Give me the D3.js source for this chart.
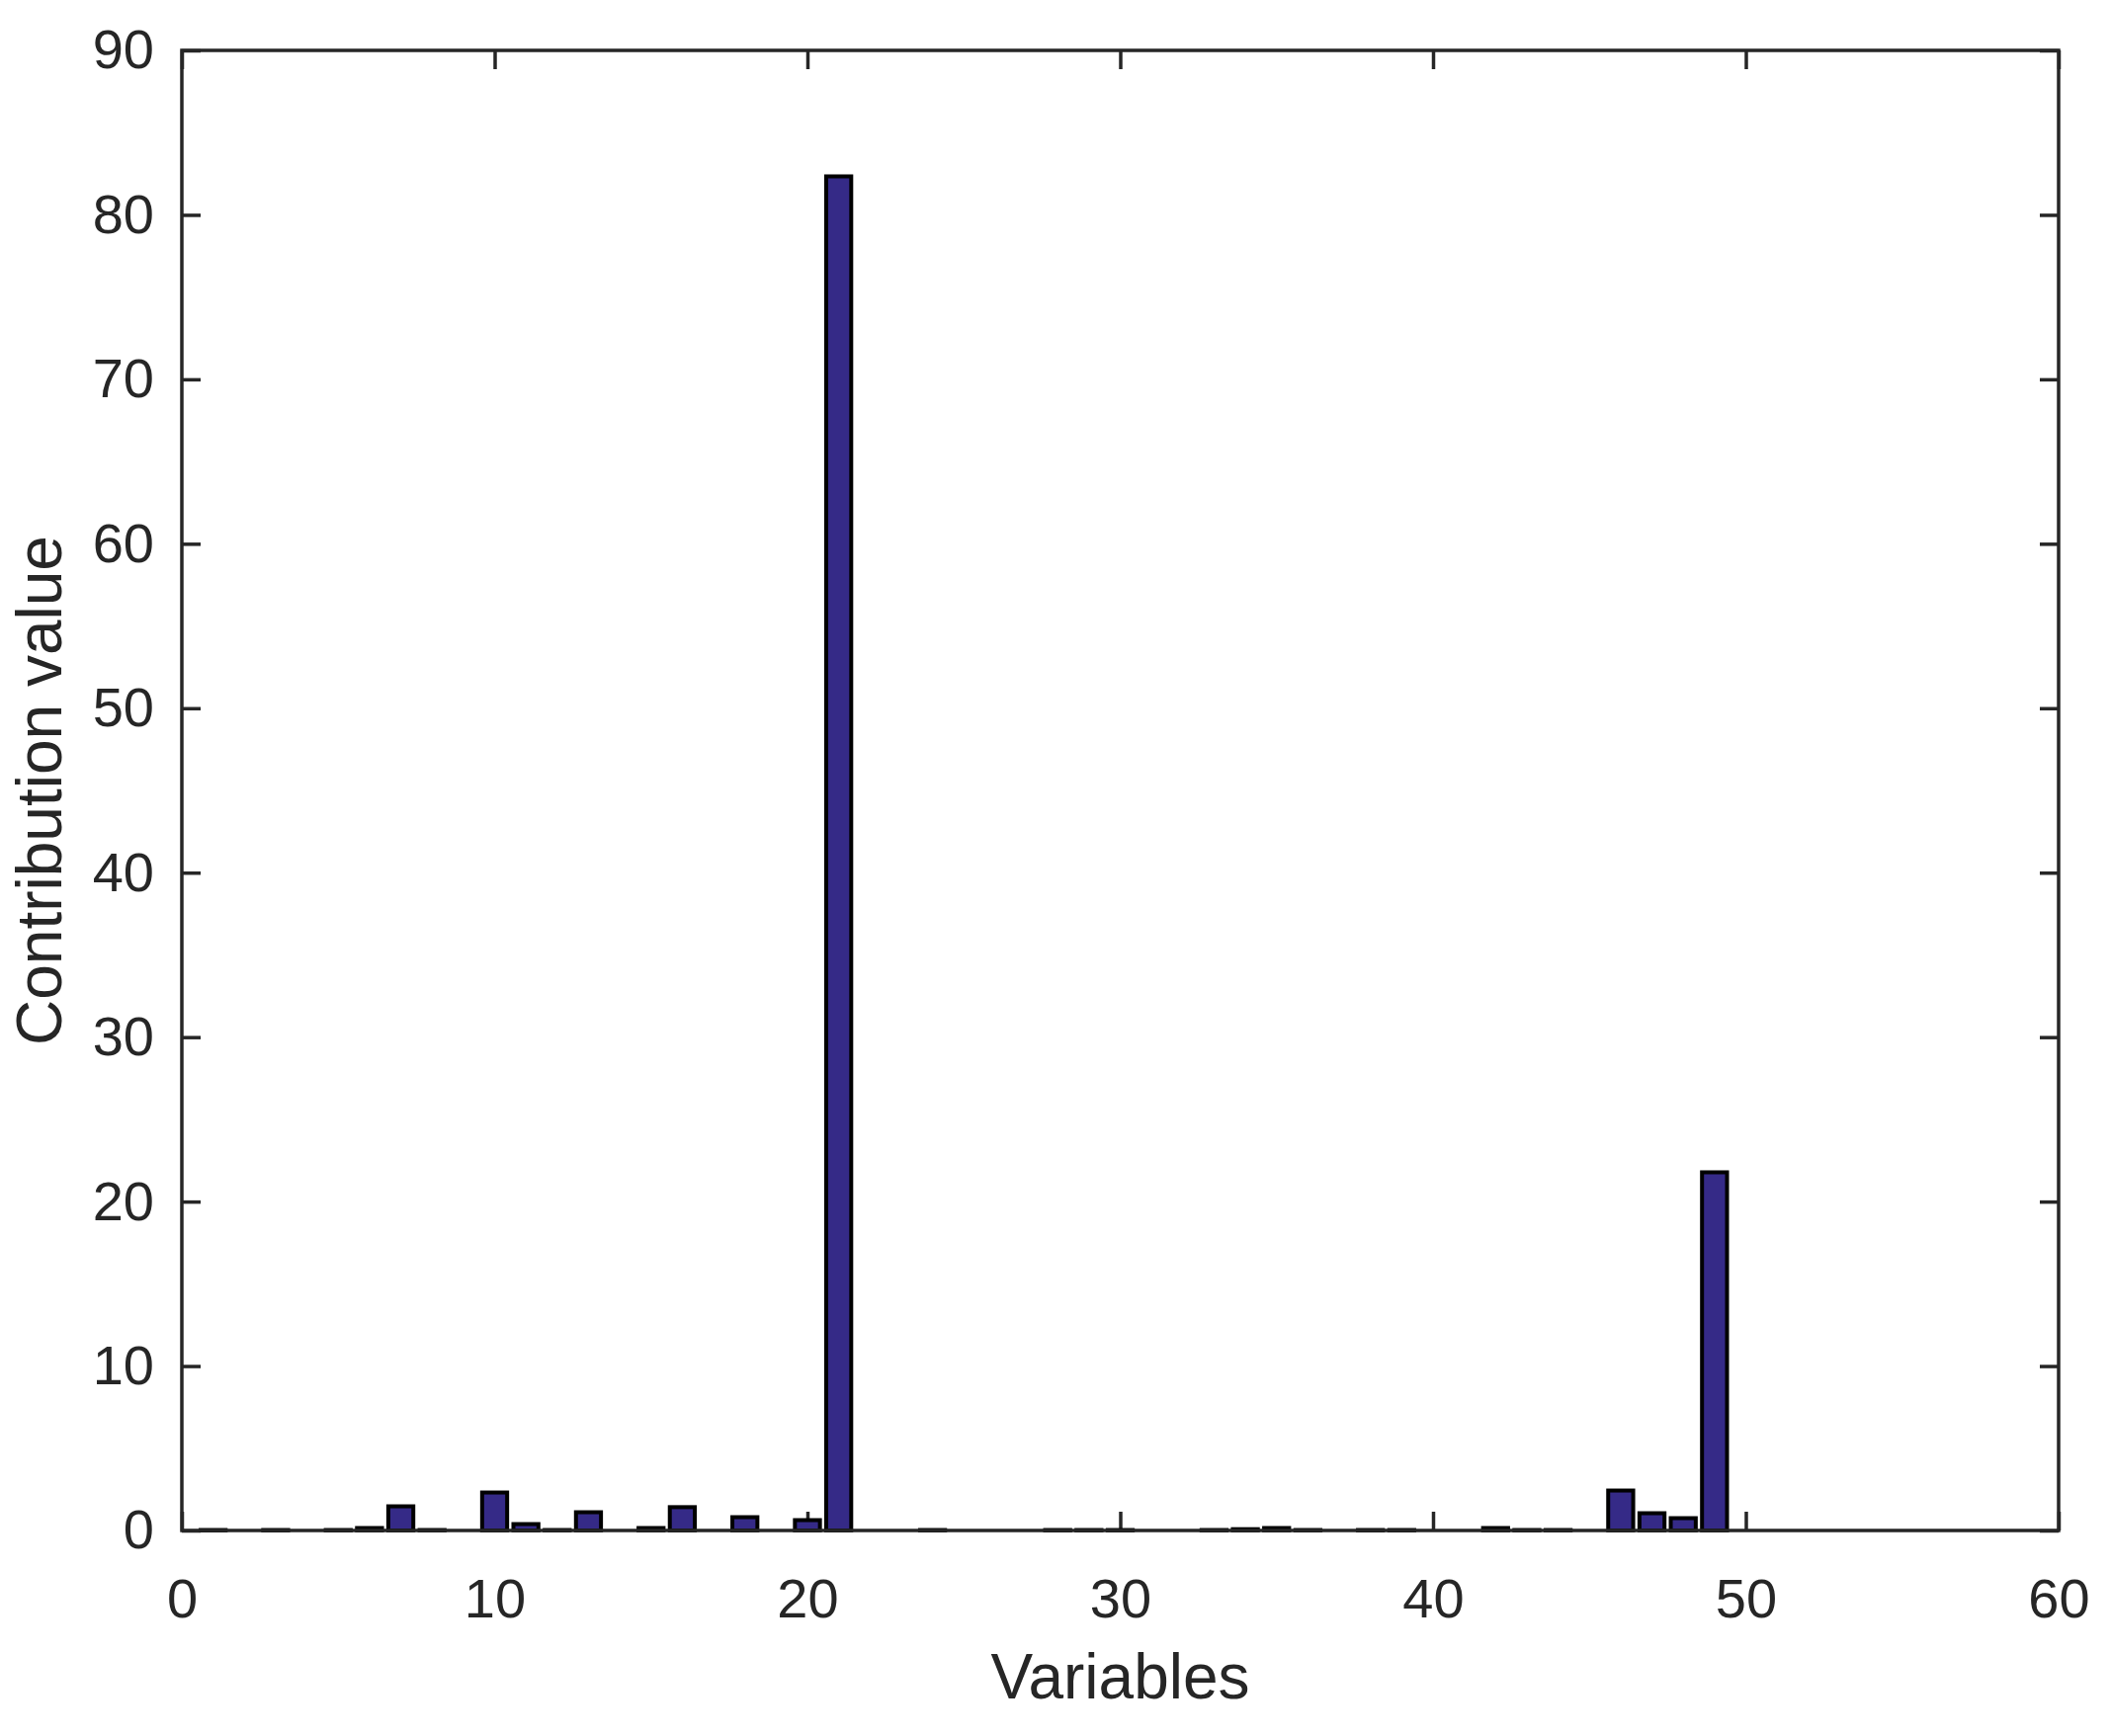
<!DOCTYPE html>
<meta charset="utf-8">
<style>
    body { margin: 0; background: #fff; }
    svg text { font-family: "Liberation Sans", Arial, Helvetica, sans-serif; fill: #262626; }
    .axis path { display: none; }
    .axis line { stroke: #262626; stroke-width: 3.5; }
</style>
<svg width="2135" height="1757"></svg>
<script src="https://cdn.jsdelivr.net/npm/d3@7"></script>
<script>

// contribution of each variable
var variables = d3.range(1, 51); // 1..50
var contribution = [
  0.03, 0, 0.03, 0, 0.03, 0.15, 1.47, 0.03, 0, 2.31,
  0.39, 0.03, 1.11, 0, 0.15, 1.42, 0, 0.81, 0, 0.63,
  82.34, 0, 0, 0.03, 0, 0, 0, 0.03, 0.03, 0.03,
  0, 0, 0.03, 0.08, 0.15, 0.03, 0, 0.03, 0.03, 0,
  0, 0.15, 0.03, 0.03, 0, 2.43, 1.05, 0.75, 21.78, 0
];
var xTicks = [0, 10, 20, 30, 40, 50, 60];
var yTicks = [0, 10, 20, 30, 40, 50, 60, 70, 80, 90];

var svg = d3.select("svg"),
    margin = {top: 51, right: 52, bottom: 208, left: 184},
    width = svg.attr("width") - margin.left - margin.right,
    height = svg.attr("height") - margin.top - margin.bottom;

var x = d3.scaleLinear().domain([0, 60]).range([0, width]),
    y = d3.scaleLinear().domain([0, 90]).range([height, 0]);

var g = svg.append("g")
    .attr("transform", "translate(" + margin.left + "," + margin.top + ")");

var tick = 19;

// axes on all four sides, ticks pointing inward
g.append("g").attr("class", "axis axis--x")
    .attr("transform", "translate(0," + height + ")")
    .call(d3.axisBottom(x).tickValues(xTicks).tickSizeInner(-tick).tickSizeOuter(0).tickPadding(48))
    .selectAll("text").style("font-size", "56px");

g.append("g").attr("class", "axis axis--y")
    .call(d3.axisLeft(y).tickValues(yTicks).tickSizeInner(-tick).tickSizeOuter(0).tickPadding(28))
    .selectAll("text").style("font-size", "56px");

g.append("g").attr("class", "axis")
    .call(d3.axisTop(x).tickValues(xTicks).tickSizeInner(-tick).tickSizeOuter(0).tickFormat(""));

g.append("g").attr("class", "axis")
    .attr("transform", "translate(" + width + ",0)")
    .call(d3.axisRight(y).tickValues(yTicks).tickSizeInner(-tick).tickSizeOuter(0).tickFormat(""));

// bars
var bw = 0.8;
g.selectAll(".bar")
    .data(variables)
  .enter().append("rect")
    .attr("class", "bar")
    .attr("x", function(d) { return x(d - bw / 2); })
    .attr("width", function(d) { return x(d + bw / 2) - x(d - bw / 2); })
    .attr("y", function(d, i) { return y(contribution[i]); })
    .attr("height", function(d, i) { return y(0) - y(contribution[i]); })
    .style("fill", "#352a87")
    .style("stroke", "#000")
    .style("stroke-width", 4);

// box
g.append("rect")
    .attr("width", width)
    .attr("height", height)
    .style("fill", "none")
    .style("stroke", "#262626")
    .style("stroke-width", 3.5);

// labels
g.append("text")
    .attr("x", width / 2)
    .attr("y", height + 170)
    .attr("text-anchor", "middle")
    .style("font-size", "64px")
    .text("Variables");

g.append("text")
    .attr("transform", "rotate(-90)")
    .attr("x", -height / 2)
    .attr("y", -122)
    .attr("text-anchor", "middle")
    .style("font-size", "64px")
    .text("Contribution value");

</script>
